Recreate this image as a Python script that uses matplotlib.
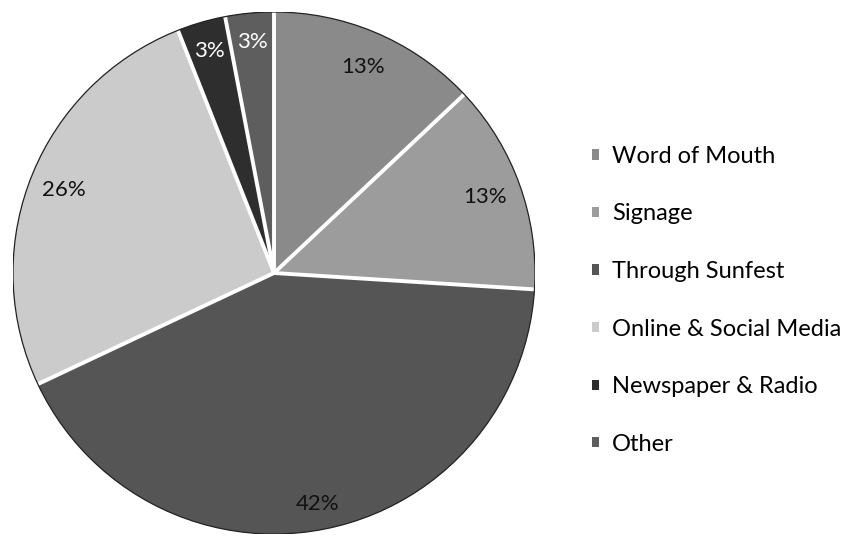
import numpy as np
import matplotlib
matplotlib.use("Agg")
import matplotlib.pyplot as plt
from matplotlib.patches import Circle

plt.rcParams['font.family'] = ['Lato', 'DejaVu Sans']

sources = ['Word of Mouth', 'Signage', 'Through Sunfest',
           'Online & Social Media', 'Newspaper & Radio', 'Other']
shares = [13, 13, 42, 26, 3, 3]
colors = ['#8a8a8a', '#9c9c9c', '#555555', '#cbcbcb', '#2e2e2e', '#5e5e5e']
label_colors = ['#111111', '#111111', '#111111', '#111111', 'white', 'white']
label_dist = [0.86, 0.86, 0.90, 0.865, 0.885, 0.89]

W, H = 851, 536
fig = plt.figure(figsize=(W / 100, H / 100), dpi=100)

# pie centre and radius in pixels
cx, cy, r = 274, 263, 261
ax = fig.add_axes([(cx - r) / W, (cy - r) / H, 2 * r / W, 2 * r / H])

wedges, _ = ax.pie(shares, colors=colors, startangle=90, counterclock=False,
                   radius=1, wedgeprops=dict(linewidth=0))
ax.set_xlim(-1, 1)
ax.set_ylim(-1, 1)
ax.set_aspect('equal')
ax.axis('off')

# white separators between slices
for w in wedges:
    a = np.deg2rad(w.theta2)
    ax.plot([0, np.cos(a)], [0, np.sin(a)], color='white', lw=2.8,
            solid_capstyle='butt', zorder=3)
ax.add_patch(Circle((0, 0), 1, fill=False, edgecolor='#222222', lw=0.9, zorder=4))

# percentage labels along each slice's middle angle
for w, val, d, c in zip(wedges, shares, label_dist, label_colors):
    a = np.deg2rad((w.theta1 + w.theta2) / 2)
    ax.text(d * np.cos(a), d * np.sin(a), f'{val}%', ha='center', va='center',
            fontsize=16, color=c, zorder=5)

fig.legend(wedges, sources, loc='upper left', bbox_to_anchor=(580 / W, 1 - 134 / H),
           frameon=False, fontsize=17, handlelength=0.3, handleheight=0.3,
           handletextpad=0.55, labelspacing=1.55, borderpad=0)

fig.savefig('out.png', dpi=100)
